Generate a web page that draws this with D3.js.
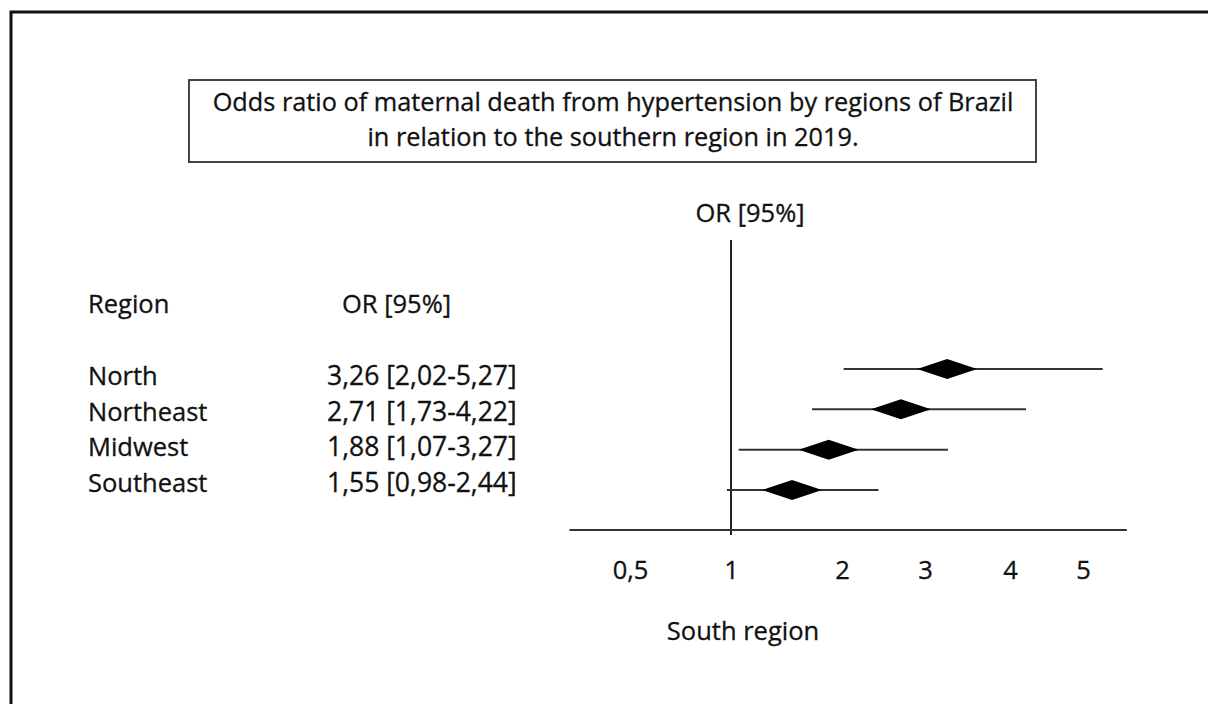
<!DOCTYPE html>
<html>
<head>
<meta charset="utf-8">
<script src="https://cdn.jsdelivr.net/npm/d3@7"></script>
<style>
  html, body { margin: 0; padding: 0; background: #fff; }
  svg { display: block; font-family: "Open Sans", Lato, sans-serif; }
  svg text { fill: #111; stroke: #111; stroke-width: 0.3px; }
</style>
</head>
<body>
<div id="chart"></div>
<script>
// data
const regions = ['North', 'Northeast', 'Midwest', 'Southeast'];
const orValues = [3.26, 2.71, 1.88, 1.55];
const ciLow = [2.02, 1.73, 1.07, 0.98];
const ciHigh = [5.27, 4.22, 3.27, 2.44];
const orLabels = ['3,26 [2,02-5,27]', '2,71 [1,73-4,22]', '1,88 [1,07-3,27]', '1,55 [0,98-2,44]'];
const tickValues = [0.5, 1, 2, 3, 4, 5];
const tickLabels = ['0,5', '1', '2', '3', '4', '5'];
const titleLines = ['Odds ratio of maternal death from hypertension by regions of Brazil',
  'in relation to the southern region in 2019.'];

const width = 1208, height = 704;
const fontSize = '25.5px';

const svg = d3.select('#chart').append('svg')
  .attr('width', width)
  .attr('height', height);

// outer frame (only top and left edges are visible in the crop)
svg.append('path')
  .attr('d', `M11,${height + 5} L11,12 L${width + 5},12`)
  .attr('fill', 'none')
  .attr('stroke', '#111')
  .attr('stroke-width', 3);

// title box
svg.append('rect')
  .attr('x', 189).attr('y', 80)
  .attr('width', 847).attr('height', 82)
  .attr('fill', 'none')
  .attr('stroke', '#444')
  .attr('stroke-width', 2);

svg.append('g').selectAll('text')
  .data(titleLines)
  .join('text')
  .attr('x', 613)
  .attr('y', (d, i) => 111 + i * 35)
  .attr('text-anchor', 'middle')
  .style('font-size', '25.3px')
  .text(d => d);

// x scale: the figure's axis is not uniform, so piecewise linear on the tick positions
const x = d3.scaleLinear()
  .domain(tickValues)
  .range([630, 731, 842, 925, 1010, 1083]);

const axisExtent = [0.2, 5.6];
const axisY = 530;

const yPlot = d3.scalePoint().domain(regions).range([369, 490]);
const yText = d3.scalePoint().domain(regions).range([385, 492]);

// left table
svg.append('text').attr('x', 88).attr('y', 313).style('font-size', fontSize).text('Region');
svg.append('text').attr('x', 342).attr('y', 313).style('font-size', fontSize).text('OR [95%]');

const rows = regions.map((r, i) => ({
  region: r, or: orValues[i], lo: ciLow[i], hi: ciHigh[i], label: orLabels[i]
}));

const table = svg.append('g');
table.selectAll('.region-name')
  .data(rows)
  .join('text')
  .attr('class', 'region-name')
  .attr('x', 88)
  .attr('y', d => yText(d.region))
  .style('font-size', fontSize)
  .text(d => d.region);

table.selectAll('.region-or')
  .data(rows)
  .join('text')
  .attr('class', 'region-or')
  .attr('x', 327)
  .attr('y', d => yText(d.region))
  .style('font-size', '26.5px')
  .text(d => d.label);

// header above the plot
svg.append('text')
  .attr('x', 750).attr('y', 222)
  .attr('text-anchor', 'middle')
  .style('font-size', fontSize)
  .text('OR [95%]');

// reference line at OR = 1
svg.append('line')
  .attr('x1', x(1)).attr('x2', x(1))
  .attr('y1', 240).attr('y2', axisY + 5)
  .attr('stroke', '#222')
  .attr('stroke-width', 2);

// x axis
svg.append('line')
  .attr('x1', x(axisExtent[0])).attr('x2', x(axisExtent[1]))
  .attr('y1', axisY).attr('y2', axisY)
  .attr('stroke', '#333')
  .attr('stroke-width', 2);

const xAxis = d3.axisBottom(x)
  .tickValues(tickValues)
  .tickSize(0)
  .tickPadding(31)
  .tickFormat((d, i) => tickLabels[i]);

const gx = svg.append('g')
  .attr('transform', `translate(0,${axisY})`)
  .call(xAxis);
gx.select('.domain').remove();
gx.selectAll('text')
  .attr('fill', '#111')
  .style('font-family', '"Open Sans", Lato, sans-serif')
  .style('font-size', fontSize);

svg.append('text')
  .attr('x', x(1) + 12).attr('y', 640)
  .attr('text-anchor', 'middle')
  .style('font-size', fontSize)
  .text('South region');

// confidence intervals
const plot = svg.append('g');
plot.selectAll('.ci')
  .data(rows)
  .join('line')
  .attr('class', 'ci')
  .attr('x1', d => x(d.lo))
  .attr('x2', d => x(d.hi))
  .attr('y1', d => yPlot(d.region))
  .attr('y2', d => yPlot(d.region))
  .attr('stroke', '#333')
  .attr('stroke-width', 2);

// point estimates as diamonds
const dw = 30, dh = 10;
plot.selectAll('.est')
  .data(rows)
  .join('path')
  .attr('class', 'est')
  .attr('d', d => {
    const cx = x(d.or), cy = yPlot(d.region);
    return `M${cx - dw},${cy} L${cx},${cy - dh} L${cx + dw},${cy} L${cx},${cy + dh} Z`;
  })
  .attr('fill', '#000');
</script>
</body>
</html>
